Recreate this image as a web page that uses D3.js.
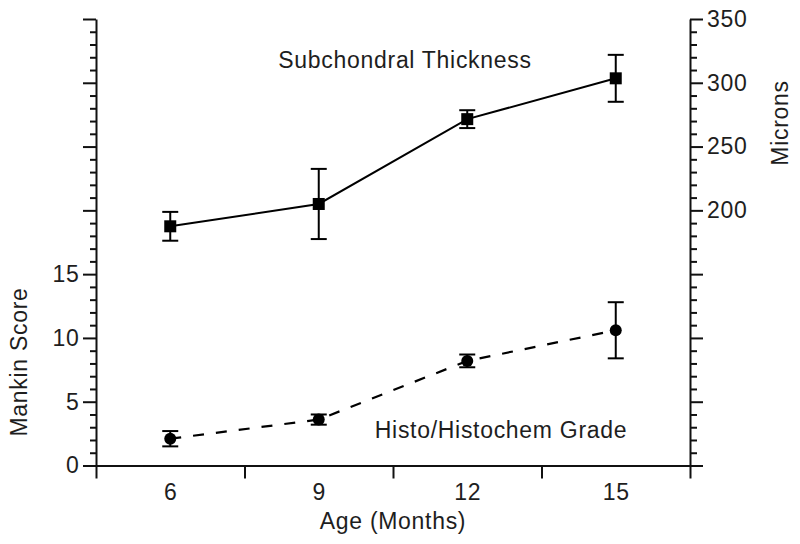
<!DOCTYPE html>
<html>
<head>
<meta charset="utf-8">
<script src="https://cdn.jsdelivr.net/npm/d3@7"></script>
<style>
  html, body { margin: 0; padding: 0; background: #fff; }
  svg { display: block; }
  text { font-family: "Liberation Sans", Arial, Helvetica, sans-serif; fill: #1e1e1e; }
</style>
</head>
<body>
<svg id="chart" width="800" height="544"></svg>
<script>
// ---- data ----
const months = [6, 9, 12, 15];
const thickness = [187.5, 205, 271.5, 303.5];      // microns (right axis)
const thicknessErr = [11.3, 27.5, 7, 18.4];
const mankin = [2.1, 3.6, 8.2, 10.6];               // Mankin score (left axis)
const mankinErr = [0.6, 0.4, 0.5, 2.2];
const xBoundaryTicks = [4.5, 7.5, 10.5, 13.5, 16.5];
const leftTickLabels = [0, 5, 10, 15];
const rightTickLabels = [200, 250, 300, 350];

const svg = d3.select("#chart");
const FONT = 23, LS = "0.7px";

const x = d3.scaleLinear().domain([4.5, 16.5]).range([96, 690]);
const yL = d3.scaleLinear().domain([0, 35]).range([465.5, 19]);
const yR = d3.scaleLinear().domain([0, 350]).range([465.5, 19]);

function styleAxis(g) {
  g.attr("font-family", null).attr("font-size", null);
  g.selectAll("path.domain").attr("stroke", "#111").attr("stroke-width", 2);
  g.selectAll(".tick line").attr("stroke", "#111").attr("stroke-width", 2);
  g.selectAll("text").style("font-size", FONT + "px").style("letter-spacing", LS).attr("fill", "#1e1e1e");
}

// left axis
const gL = svg.append("g").attr("transform", "translate(96,0)")
  .call(d3.axisLeft(yL).tickValues(d3.range(0, 36, 1)).tickSizeInner(6).tickSizeOuter(0).tickPadding(10.5)
    .tickFormat(d => leftTickLabels.includes(d) ? d : ""));
gL.selectAll(".tick").filter(d => d % 5 === 0).select("line").attr("x2", -13);
styleAxis(gL);

// right axis
const gR = svg.append("g").attr("transform", "translate(690,0)")
  .call(d3.axisRight(yR).tickValues(d3.range(0, 351, 10)).tickSizeInner(7).tickSizeOuter(0).tickPadding(10)
    .tickFormat(d => rightTickLabels.includes(d) ? d : ""));
gR.selectAll(".tick").filter(d => d % 50 === 0).select("line").attr("x2", 13);
styleAxis(gR);

// bottom axis (boundary ticks)
const gB = svg.append("g").attr("transform", "translate(0,465.5)")
  .call(d3.axisBottom(x).tickValues(xBoundaryTicks).tickSizeInner(13).tickSizeOuter(0).tickFormat(""));
styleAxis(gB);

// bottom labels
const gBL = svg.append("g").attr("transform", "translate(0,465.5)")
  .call(d3.axisBottom(x).tickValues(months).tickSize(0).tickPadding(18.5).tickFormat(d3.format("d")));
gBL.select("path.domain").remove();
styleAxis(gBL);

// lines
svg.append("path")
  .datum(months.map((m, i) => [m, thickness[i]]))
  .attr("fill", "none").attr("stroke", "#000").attr("stroke-width", 2)
  .attr("d", d3.line().x(d => x(d[0])).y(d => yR(d[1])));

svg.append("path")
  .datum(months.map((m, i) => [m, mankin[i]]))
  .attr("fill", "none").attr("stroke", "#000").attr("stroke-width", 2.2)
  .attr("stroke-dasharray", "11,12")
  .attr("d", d3.line().x(d => x(d[0])).y(d => yL(d[1])));

// error bars
function errorBars(vals, errs, scale) {
  const g = svg.append("g").attr("stroke", "#000").attr("stroke-width", 2);
  months.forEach((m, i) => {
    const cx = x(m), top = scale(vals[i] + errs[i]), bot = scale(vals[i] - errs[i]);
    g.append("line").attr("x1", cx).attr("x2", cx).attr("y1", top).attr("y2", bot);
    g.append("line").attr("x1", cx - 8).attr("x2", cx + 8).attr("y1", top).attr("y2", top);
    g.append("line").attr("x1", cx - 8).attr("x2", cx + 8).attr("y1", bot).attr("y2", bot);
  });
}
errorBars(thickness, thicknessErr, yR);
errorBars(mankin, mankinErr, yL);

// markers
svg.append("g").selectAll("rect").data(months).join("rect")
  .attr("x", (d) => x(d) - 6).attr("y", (d, i) => yR(thickness[i]) - 6)
  .attr("width", 12).attr("height", 12).attr("fill", "#000");
svg.append("g").selectAll("circle").data(months).join("circle")
  .attr("cx", d => x(d)).attr("cy", (d, i) => yL(mankin[i]))
  .attr("r", 6).attr("fill", "#000");

// texts
function label(txt, px, py, rot, anchor) {
  svg.append("text")
    .attr("transform", `translate(${px},${py}) rotate(${rot})`)
    .attr("text-anchor", anchor)
    .style("font-size", FONT + "px").style("letter-spacing", LS)
    .text(txt);
}
label("Subchondral Thickness", 405, 68, 0, "middle");
label("Histo/Histochem Grade", 501, 438, 0, "middle");
label("Age (Months)", 393, 529, 0, "middle");
label("Mankin Score", 27, 362, -90, "middle");
label("Microns", 788, 123, -90, "middle");
</script>
</body>
</html>
